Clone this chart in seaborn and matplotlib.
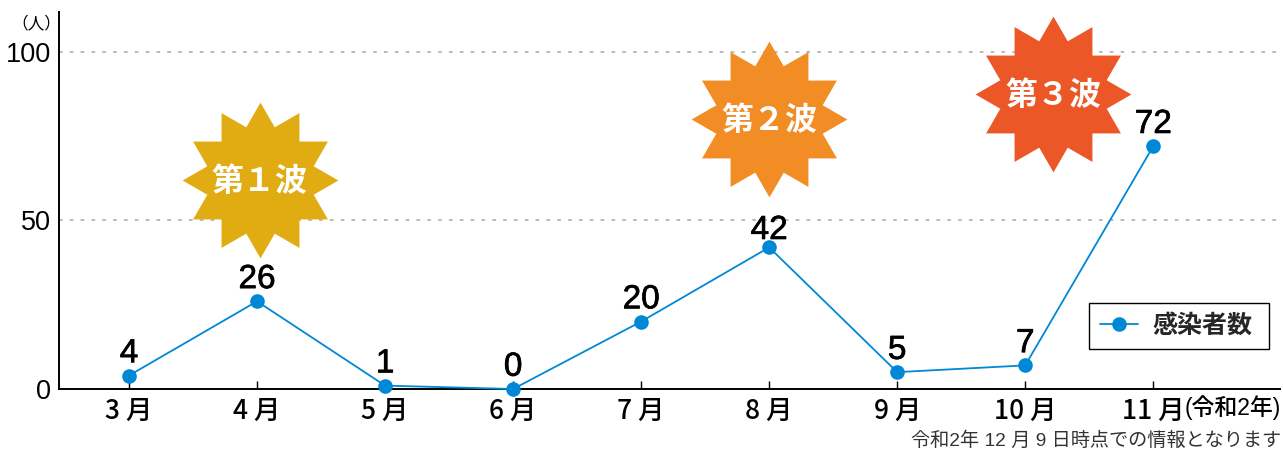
import matplotlib
matplotlib.use('Agg')
import matplotlib.pyplot as plt
import matplotlib.patheffects as pe
import seaborn as sns
from matplotlib.path import Path

months = ['3 月', '4 月', '5 月', '6 月', '7 月', '8 月', '9 月', '10 月', '11 月']
cases = [4, 26, 1, 0, 20, 42, 5, 7, 72]
y_ticks = [0, 50, 100]
waves = ['第１波', '第２波', '第３波']
wave_x = [1.02, 5.0, 7.22]
wave_y = [62, 80, 87.5]
wave_colors = ['#E0AC12', '#F28C24', '#EB5726']

sns.set_style('white')
plt.rcParams['font.family'] = ['Liberation Sans', 'Noto Sans CJK JP', 'DejaVu Sans']

W, H = 1283, 450
fig = plt.figure(figsize=(W / 100, H / 100), dpi=100)
ax = fig.add_axes([59 / W, 1 - 389 / H, (1280 - 59) / W, (389 - 12) / H])

blue = '#0088D6'
sns.lineplot(x=list(range(len(cases))), y=cases, ax=ax, color=blue, lw=1.3, marker='o',
             markersize=10.5, markeredgewidth=0, clip_on=False, label='感染者数', legend=False, zorder=4)

# starbursts behind the line
star = Path.unit_regular_star(12, innerCircle=0.707)
for x, y, c, t in zip(wave_x, wave_y, wave_colors, waves):
    ax.scatter([x], [y], marker=star, s=12570, color=c, linewidths=0, zorder=3)
    ax.annotate(t, (x, y), xytext=(0, -1.5), textcoords='offset points', color='white', fontsize=23,
                fontweight='bold', ha='center', va='center', family=['Noto Sans CJK JP'], zorder=5)

ax.set_xlim(-0.547, 8.99)
ax.set_ylim(0, 111.8)
ax.set_xticks(range(len(months)))
ax.set_xticklabels(months, fontsize=19, fontweight='medium', family=['Noto Sans CJK JP'])
ax.set_yticks(y_ticks)
ax.set_yticklabels(y_ticks, fontsize=19.5)
ax.tick_params(axis='x', direction='in', length=6, width=1, pad=6.5, color='black', labelcolor='black', bottom=True)
ax.tick_params(axis='y', length=0, pad=6, labelcolor='black')

ax.grid(axis='y', color='#B4B4B4', ls=(0, (2, 4)), lw=1.3)
ax.set_axisbelow(True)
for s in ['top', 'right']:
    ax.spines[s].set_visible(False)
for s in ['left', 'bottom']:
    ax.spines[s].set_color('black')
    ax.spines[s].set_linewidth(1.4)

for i, v in enumerate(cases):
    # the 42 sits tighter on its marker in the original
    off = 1 if v == 42 else 4.5
    ax.annotate(str(v), (i, v), xytext=(0, off), textcoords='offset points', ha='center', va='bottom',
                fontsize=24, color='black', zorder=6,
                path_effects=[pe.withStroke(linewidth=0.5, foreground='black')])

fig.text(36 / W, 1 - 23 / H, '（人）', fontsize=12, color='black', ha='center', va='center')
fig.text(1281 / W, 1 - 408 / H, '(令和2年)', fontsize=16.5, color='black', fontweight='medium', ha='right', va='center')
fig.text(1281 / W, 1 - 441 / H, '令和2年 12 月 9 日時点での情報となります', fontsize=13.8, color='#333333', ha='right', va='center')

leg = ax.legend(loc='lower left', bbox_to_anchor=(1089 / W, 1 - 349 / H, 180 / W, 40 / H),
                bbox_transform=fig.transFigure, mode='expand', borderaxespad=0,
                frameon=True, fancybox=False, edgecolor='black', framealpha=1,
                borderpad=0.44, handlelength=1.52, handletextpad=0.56, prop={'weight': 'bold', 'size': 18})
leg.get_frame().set_linewidth(1)

fig.savefig('out.png', dpi=100)
